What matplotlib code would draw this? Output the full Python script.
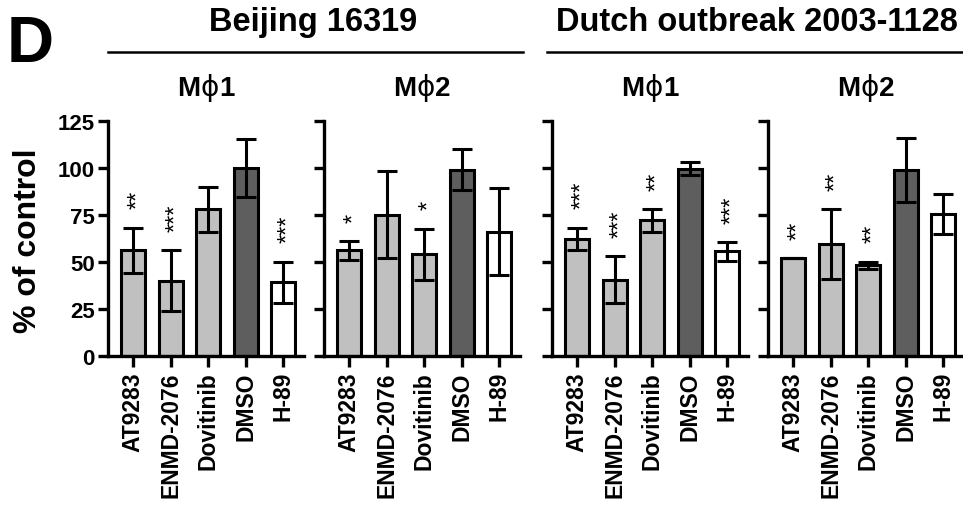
import numpy as np
import matplotlib
matplotlib.use('Agg')
import matplotlib.pyplot as plt
from matplotlib.lines import Line2D
from matplotlib.offsetbox import TextArea, HPacker, AnnotationBbox

plt.rcParams['font.family'] = ['Liberation Sans', 'DejaVu Sans']
plt.rcParams['font.weight'] = 'bold'

drugs = ['AT9283', 'ENMD-2076', 'Dovitinib', 'DMSO', 'H-89']
bar_colors = ['#c0c0c0', '#c0c0c0', '#c0c0c0', '#5e5e5e', '#ffffff']

beijing_m1 = [56, 40, 78, 100, 39]
beijing_m1_err = [12, 16, 12, 15.5, 11]
beijing_m1_sig = ['**', '***', '', '', '***']

beijing_m2 = [56, 75, 54, 99, 66]
beijing_m2_err = [5, 23, 13.5, 11, 23]
beijing_m2_sig = ['*', '', '*', '', '']

dutch_m1 = [62, 40.5, 72, 99.5, 55.5]
dutch_m1_err = [6, 12.5, 6, 3.5, 5]
dutch_m1_sig = ['***', '***', '**', '', '***']

dutch_m2 = [52, 59.5, 48, 99, 75.5]
dutch_m2_err = [0, 18.5, 2, 17, 10.5]
dutch_m2_sig = ['**', '**', '**', '', '']

panels = [
    ('1', beijing_m1, beijing_m1_err, beijing_m1_sig),
    ('2', beijing_m2, beijing_m2_err, beijing_m2_sig),
    ('1', dutch_m1, dutch_m1_err, dutch_m1_sig),
    ('2', dutch_m2, dutch_m2_err, dutch_m2_sig),
]

fig = plt.figure(figsize=(9.63, 5.06), dpi=100)
lefts = [108, 324, 552, 768]
x = np.arange(len(drugs))

for i, (sub, vals, errs, sig) in enumerate(panels):
    ax = fig.add_axes([lefts[i] / 963, 0.295, 196 / 963, 0.4645])
    ax.bar(x, vals, width=0.64, color=bar_colors, edgecolor='black', linewidth=2.2, zorder=2)
    ax.errorbar(x, vals, yerr=errs, fmt='none', ecolor='black', elinewidth=2.2,
                capsize=7, capthick=2.2, zorder=3)
    for xi, v, e, s in zip(x, vals, errs, sig):
        if s:
            ax.annotate(s, (xi, v + e), xytext=(4, 14), textcoords='offset points',
                        rotation=90, ha='center', va='bottom',
                        fontsize=17, fontweight='normal')
    ax.set_xlim(-0.667, 4.56)
    ax.set_ylim(0, 125)
    ax.set_yticks([0, 25, 50, 75, 100, 125])
    ax.set_xticks(x)
    ax.set_xticklabels(drugs, rotation=90, fontsize=16.5, fontweight='bold')
    if i == 0:
        ax.tick_params(axis='y', labelsize=16)
        for lab in ax.get_yticklabels():
            lab.set_fontweight('bold')
    else:
        ax.set_yticklabels([])
    for sp in ['top', 'right']:
        ax.spines[sp].set_visible(False)
    for sp in ['left', 'bottom']:
        ax.spines[sp].set_linewidth(2.4)
    ax.tick_params(axis='x', direction='out', length=8, width=2.4, pad=3)
    ax.tick_params(axis='y', direction='out', length=7.5, width=2.4, pad=2)

    # macrophage label: bold M, thin phi, bold digit
    parts = HPacker(children=[
        TextArea('M', textprops=dict(fontsize=20, fontweight='bold')),
        TextArea('\u03d5', textprops=dict(fontsize=20, fontweight='normal',
                                          family=['DejaVu Sans'])),
        TextArea(sub, textprops=dict(fontsize=20, fontweight='bold')),
    ], align='baseline', pad=0, sep=0)
    ab = AnnotationBbox(parts, (0.5, 1.143), xycoords='axes fraction',
                        frameon=False, box_alignment=(0.5, 0.5), annotation_clip=False)
    ax.add_artist(ab)

fig.text(0.029, 0.524, '% of control', rotation=90, ha='center', va='center',
         fontsize=23, fontweight='bold')
fig.text(0.031, 0.911, 'D', ha='center', va='center', fontsize=47, fontweight='bold')
fig.text(0.325, 0.9565, 'Beijing 16319', ha='center', va='center', fontsize=23.5, fontweight='bold')
fig.text(0.7856, 0.9565, 'Dutch outbreak 2003-1128', ha='center', va='center',
         fontsize=23.5, fontweight='bold')
fig.add_artist(Line2D([108 / 963, 523 / 963], [0.8953, 0.8953], color='black', lw=1.8))
fig.add_artist(Line2D([547 / 963, 1.0], [0.8953, 0.8953], color='black', lw=1.8))

fig.savefig('out.png', dpi=100)
